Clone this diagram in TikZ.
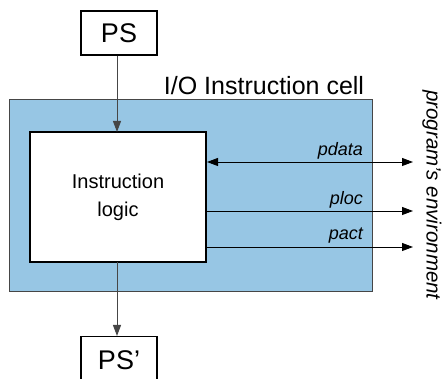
\documentclass[tikz,border=0pt]{standalone}
\usepackage{fontspec}
\setmainfont{Liberation Sans}
\usetikzlibrary{arrows.meta}
\definecolor{cellblue}{RGB}{151,198,228}
\definecolor{edgegray}{RGB}{70,70,70}
\tikzset{
  psbox/.style={draw=black, line width=1.4pt, fill=white, inner sep=0pt, minimum width=76pt, font=\fontsize{27}{30}\selectfont},
  logicbox/.style={draw=black, line width=2pt, fill=white, inner sep=0pt, minimum width=176pt, minimum height=130pt, align=center, font=\fontsize{20}{28}\selectfont},
  cellbox/.style={draw=edgegray, line width=1pt, fill=cellblue, inner sep=0pt, minimum width=363pt, minimum height=192pt},
  vflow/.style={draw=edgegray, line width=1pt, -{Triangle[length=11pt,width=8pt]}},
  hflow/.style={draw=black, line width=0.9pt, -{Triangle[length=11pt,width=8pt]}},
  hflowboth/.style={draw=black, line width=0.9pt, {Triangle[length=11pt,width=8pt]}-{Triangle[length=11pt,width=8pt]}},
  siglabel/.style={anchor=base east, inner sep=0pt, font=\fontsize{18}{20}\selectfont\itshape},
}
\begin{document}
\begin{tikzpicture}[x=1pt,y=-1pt]
\useasboundingbox (0,0) rectangle (448,379);
\node[cellbox] (cell) at (190.5,196) {};
\node[anchor=base, inner sep=0pt, font=\fontsize{25}{30}\selectfont] (celllabel) at (264,95) {I/O Instruction cell};
\node[logicbox] (logic) at (118,197) {Instruction\\logic};
\node[psbox, minimum height=44pt] (ps) at (119,33) {PS};
\node[psbox, minimum height=48pt, anchor=north, text depth=0pt] (psp) at (119,336) {};
\node[anchor=base, inner sep=0pt, font=\fontsize{27}{30}\selectfont] (psptext) at (119,370) {PS'};
\coordinate (pin) at (117,132);
\coordinate (pout) at (117,262);
\draw[vflow] (ps.south -| pin) -- (pin);
\draw[vflow] (pout) -- (psp.north -| pout);
\coordinate (ed) at (413,162);
\coordinate (el) at (413,211);
\coordinate (ea) at (413,247);
\draw[hflowboth] (logic.east |- ed) -- (ed);
\draw[hflow] (logic.east |- el) -- (el);
\draw[hflow] (logic.east |- ea) -- (ea);
\node[siglabel] (pdata) at (363,156) {pdata};
\node[siglabel] (ploc) at (363,205) {ploc};
\node[siglabel] (pact) at (363,240) {pact};
\node[rotate=-90, inner sep=0pt, font=\fontsize{20.5}{24}\selectfont\itshape] (env) at (432,195) {program's environment};
\end{tikzpicture}
\end{document}
